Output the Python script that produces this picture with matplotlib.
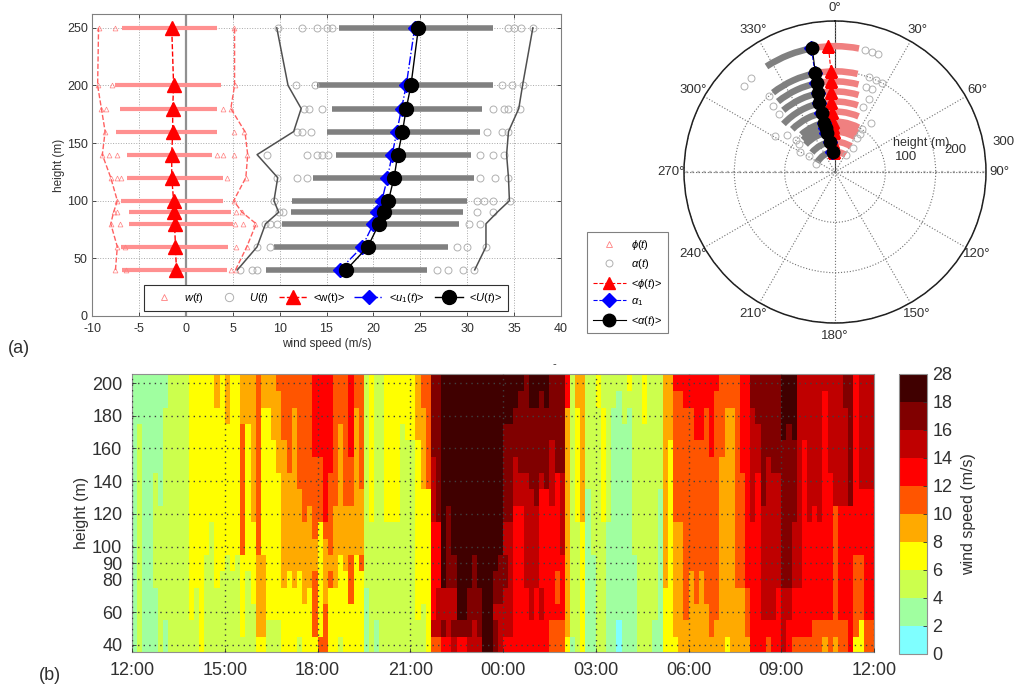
import numpy as np
import matplotlib
matplotlib.use('Agg')
import matplotlib.pyplot as plt
from matplotlib.colors import ListedColormap, BoundaryNorm

plt.rcParams['font.family'] = ['Liberation Sans', 'DejaVu Sans']
plt.rcParams['mathtext.fontset'] = 'custom'
plt.rcParams['mathtext.it'] = 'Liberation Sans:italic'
plt.rcParams['mathtext.rm'] = 'Liberation Sans'
plt.rcParams['axes.unicode_minus'] = False

W, H = 1016, 689

# heights of the mast levels
heights = [40, 60, 80, 90, 100, 120, 140, 160, 180, 200, 250]

# vertical wind w
w_mean = [-1.0, -1.1, -1.2, -1.25, -1.3, -1.5, -1.5, -1.4, -1.4, -1.3, -1.5]
w_min = [-7.5, -7.3, -8.0, -7.7, -7.3, -8.0, -8.9, -8.6, -9.0, -9.4, -9.3]
w_max = [5.3, 6.5, 7.5, 6.0, 5.1, 6.4, 6.6, 6.3, 4.8, 5.2, 5.2]
w_dense_lo = [-6.8, -6.9, -6.1, -6.1, -6.9, -6.3, -6.3, -7.4, -7.0, -7.5, -6.8]
w_dense_hi = [4.4, 4.5, 5.0, 4.8, 4.0, 4.0, 2.8, 3.3, 3.3, 3.7, 3.3]
w_outliers = [
    [-7.5, -6.4, 4.8, 5.3],
    [-7.3, -6.5, 5.4, 6.5],
    [-8.0, -7.0, 5.2, 6.1, 7.4],
    [-7.7, -7.3, 5.3, 6.0],
    [-7.3, 5.1],
    [-8.0, -7.3, -6.9, 4.4, 6.4],
    [-8.9, -8.2, -7.3, 3.3, 4.0, 5.1, 6.5],
    [-8.6, 5.1, 6.2],
    [-9.0, -8.5, 4.0, 4.8],
    [-9.4, -7.9, 5.2],
    [-9.3, -7.5, 5.1],
]

# horizontal wind U
U_mean = [17.1, 19.4, 20.6, 21.1, 21.6, 22.2, 22.6, 23.1, 23.5, 24.0, 24.8]
u1_mean = [16.4, 18.8, 20.0, 20.4, 20.9, 21.5, 22.0, 22.5, 23.0, 23.5, 24.4]
U_min = [5.5, 7.6, 8.5, 9.9, 9.4, 9.8, 7.6, 11.5, 12.3, 10.9, 9.7]
U_max = [30.8, 32.0, 32.0, 33.2, 34.5, 34.4, 34.2, 34.4, 35.5, 35.9, 37.0]
U_dense_lo = [8.5, 9.4, 10.3, 11.2, 11.3, 13.6, 16.0, 15.0, 15.6, 14.0, 16.3]
U_dense_hi = [25.7, 28.0, 29.1, 29.6, 30.0, 30.7, 30.4, 31.4, 31.6, 32.8, 32.8]
U_outliers = [
    [5.8, 7.1, 7.6, 26.8, 28.0, 29.6, 30.7],
    [7.6, 9.0, 28.9, 30.0, 32.0],
    [8.4, 9.0, 9.7, 30.2, 31.4],
    [9.9, 10.4, 31.0, 32.7],
    [9.4, 31.0, 31.8, 32.8, 34.6],
    [9.7, 11.9, 12.9, 31.4, 33.0, 34.3],
    [8.7, 12.9, 14.0, 14.5, 15.2, 31.4, 32.8, 33.9],
    [11.9, 12.4, 13.3, 32.1, 33.7, 34.3],
    [12.6, 13.1, 14.5, 32.7, 33.9, 34.4, 35.6],
    [11.7, 13.8, 33.7, 34.8, 35.9],
    [9.8, 12.4, 14.0, 15.1, 15.6, 34.3, 35.0, 35.7, 37.0],
]

# directions in degrees
phi_mean = [-3.0, -3.0, -2.0, -2.0, -2.0, -3.0, -3.0, -3.0, -2.5, -2.3, -3.0]
alpha_mean = [-7.0, -9.5, -12.0, -12.0, -12.3, -12.7, -12.8, -11.9, -11.6, -11.2, -10.4]
alpha1_mean = [-7.5, -10.0, -12.3, -12.3, -12.6, -13.0, -13.0, -12.2, -11.9, -11.5, -10.8]
alpha_lo = [-62, -50, -47, -45, -42, -45, -47, -40, -39, -38, -33]
alpha_hi = [-5, -7, -9, -9, -10, -10, -11, -11, -11, -11, -10]
phi_hi = [32, 32, 30, 30, 28, 23, 19, 17, 15, 13, 11]
alpha_out = [
    [-68, 34],
    [-58, 36],
    [-61, 33],
    [-52, 33],
    [-50, 32],
    [-52, 36],
    [-59, 23],
    [-44, 25],
    [-43, 20, 24],
    [-41, 20, 24, 28],
    [-46.6, -42, 14, 17, 20],
]

# wind speed class per 10 min column, 17 rows from 40 m (first digit) to 200 m
speed_classes = [
    "11111111111111111", "22222222222222111", "11111111111111111", "11111111111111111",
    "11112222222111111", "22222222211111111", "11222222222222211", "22222222222222222",
    "22222222222222222", "22222222222222222", "22222222222222222", "22333333333333333",
    "22223333333333333", "33333333333333333", "22222233333333333", "22222222333333333",
    "22223333333333344", "22222333333333333", "22222233333333444", "22222333333333333",
    "22222233333333333", "23333355555555444", "22222333333333444", "22233333444444444",
    "34444455555555555", "34444433333333344", "22333333333333344", "22333333333334444",
    "22333333333444445", "33334444444445555", "33333444444555555", "33334444444444455",
    "23333444445555555", "33344444555555555", "33334444455555555", "35555445555566666",
    "53333333555566666", "55544445666666666", "33335455555666666", "33334444455555555",
    "23333344444444555", "33333444455555555", "33355544455566666", "33333344444444455",
    "33333544445555555", "11112222222222222", "22222222333333333", "11222222222222222",
    "22222222222222222", "22222222333333333", "22222222333333333", "22222222333333333",
    "22222222222222333", "22222222222223333", "22222222222223333", "22333333333334444",
    "22233333334444455", "33333333335555555", "57666666777788888", "57776666888888888",
    "68779999999999999", "67778888899999999", "78778899999999999", "68999999999999999",
    "68999999999999999", "78889999999999999", "77888899999999999", "78889999999999999",
    "99999999999999999", "99999999999999999", "88788999999999999", "77788899999999999",
    "67778877888888999", "67777777888888999", "66666666677788899", "66666666677888889",
    "66667777777888888", "66777777778888899", "66667777788888899", "66776666667888889",
    "66666666668888899", "55666666677778888", "55655666666888888", "55666677777888888",
    "34444444444444466", "12222222222222222", "22222222333333344", "33333333444444444",
    "11111111112222222", "11111122222222222", "22222222222222233", "22222222333333322",
    "11111111222222222", "11111111111111122", "00111111111111112", "11111111111111222",
    "11111111111111123", "11111122222222222", "22222222222222222", "22222222222222333",
    "22222222222222222", "11222222222222222", "11111111112222222", "33334444444444444",
    "33333333333334444", "34444444555555556", "44444444555555556", "44555555555555566",
    "44444555555555566", "44455555555556666", "44444555555556666", "44455555555555566",
    "45555555555566666", "44555555555555556", "44444444444455555", "34444444444444455",
    "44444444444444455", "44445555555555555", "44445555555666666", "45556666666666666",
    "66666666777777788", "66666666666777888", "66777777788888888", "56777777777788888",
    "66777777777888888", "66667777777888888", "77778888888889999", "66778888888888999",
    "56667777888889999", "56667777777777777", "56666666666667777", "56666666777777777",
    "55666666677777777", "55666666777777777", "45666666666666667", "55666666666777777",
    "45555555577777777", "55666666677777777", "55666666677777788", "66666666688888888",
    "35555566666666666", "33555566667777777", "55666666667777777", "55666666667777777",
]
speed_levels = [0, 2, 4, 6, 8, 10, 12, 14, 16, 18, 28]
speed_colors = ['#7fffff', '#a0ffa0', '#ccff4d', '#ffff00', '#ffaa00',
                '#ff5500', '#ff0000', '#bf0000', '#800000', '#400000']
height_ticks = [40, 60, 80, 90, 100, 120, 140, 160, 180, 200]
time_labels = ['12:00', '15:00', '18:00', '21:00', '00:00', '03:00', '06:00', '09:00', '12:00']

fig = plt.figure(figsize=(W / 100, H / 100), dpi=100)


def px_axes(left, top, right, bottom, **kw):
    return fig.add_axes([left / W, 1 - bottom / H, (right - left) / W, (bottom - top) / H], **kw)


def fx(x):
    return x / W


def fy(y):
    return 1 - y / H


pink = '#ff8080'
grey = '#808080'
ring = '#b0b0b0'

# (a) profile panel
ax = px_axes(92, 14, 561, 316)
ax.axvline(0, color='#909090', lw=1.6, zorder=1)
ax.hlines(heights, w_dense_lo, w_dense_hi, color='#ff9090', lw=3, zorder=2)
ax.hlines(heights, U_dense_lo, U_dense_hi, color=grey, lw=4, zorder=2)
for h, w_o, U_o in zip(heights, w_outliers, U_outliers):
    ax.plot(w_o, [h] * len(w_o), ls='none', marker='^', ms=3.5, mfc='none', mec=pink, mew=0.5, zorder=2)
    ax.plot(U_o, [h] * len(U_o), ls='none', marker='o', ms=5, mfc='none', mec=ring, mew=0.7, zorder=2)
ax.plot(w_min, heights, color='#ff6060', ls='--', lw=1, zorder=3)
ax.plot(w_max, heights, color='#ff6060', ls='--', lw=1, zorder=3)
ax.plot(U_min, heights, color='#505050', lw=1.1, zorder=3)
ax.plot(U_max, heights, color='#505050', lw=1.1, zorder=3)
l_w, = ax.plot([], [], ls='none', marker='^', ms=4, mfc='none', mec=pink, mew=0.6, label='$w(t)$')
l_U, = ax.plot([], [], ls='none', marker='o', ms=6, mfc='none', mec=ring, mew=0.7, label='$U(t)$')
l_wm, = ax.plot(w_mean, heights, color='r', ls='--', lw=1, marker='^', ms=10, zorder=5, label='<w(t)>')
l_u1, = ax.plot(u1_mean, heights, color='b', ls='-.', lw=1, marker='D', ms=7, zorder=5, label='<$u_1(t)$>')
l_Um, = ax.plot(U_mean, heights, color='k', lw=1, marker='o', ms=10, zorder=6, label='<$U(t)$>')
ax.set_xlim(-10, 40)
ax.set_ylim(0, 262)
ax.set_xticks(np.arange(-10, 41, 5))
ax.set_yticks(np.arange(0, 251, 50))
ax.tick_params(labelsize=9, length=3, width=0.6, direction='in', top=True, right=True, pad=3, colors='#303030')
ax.tick_params(axis='x', pad=5)
ax.grid(True, ls=':', color='#a8a8a8', lw=0.7)
ax.set_axisbelow(True)
ax.set_xlabel('wind speed (m/s)', fontsize=8.5, labelpad=2, color='#303030')
ax.set_ylabel('height (m)', fontsize=8.5, labelpad=1, color='#303030')
for s in ax.spines.values():
    s.set_color('#808080')
leg = ax.legend(handles=[l_w, l_U, l_wm, l_u1, l_Um], ncol=5, loc='center',
                bbox_to_anchor=(fx(326), fy(298)), bbox_transform=fig.transFigure,
                fontsize=8, fancybox=False, framealpha=1, edgecolor='#303030',
                columnspacing=0.9, handletextpad=0.5, handlelength=2.6, borderpad=0.55)
leg.set_zorder(10)
leg.get_frame().set_linewidth(0.8)

# (a) direction panel
pax = px_axes(684, 21, 986, 323, projection='polar')
pax.set_theta_zero_location('N')
pax.set_theta_direction(-1)
pax.set_rlim(0, 300)
pax.barh(heights, np.radians(np.subtract(alpha_hi, alpha_lo)), left=np.radians(alpha_lo),
         height=13, color=grey, zorder=2)
pax.barh(heights, np.radians(np.subtract(phi_hi, alpha_hi)), left=np.radians(alpha_hi),
         height=13, color='#f08080', zorder=2)
for h, a_o in zip(heights, alpha_out):
    pax.plot(np.radians(a_o), [h] * len(a_o), ls='none', marker='o', ms=5, mfc='none',
             mec=ring, mew=0.7, zorder=3)
p_phi, = pax.plot([], [], ls='none', marker='^', ms=4, mfc='none', mec=pink, mew=0.6, label=r'$\phi(t)$')
p_alpha, = pax.plot([], [], ls='none', marker='o', ms=5, mfc='none', mec=ring, mew=0.7, label=r'$\alpha(t)$')
p_pm, = pax.plot(np.radians(phi_mean), heights, color='r', ls='--', lw=0.8, marker='^', ms=9, zorder=5,
                 label=r'<$\phi(t)$>')
p_a1, = pax.plot(np.radians(alpha1_mean), heights, color='b', ls='--', lw=0.8, marker='D', ms=7, zorder=5,
                 label=r'$\alpha_1$')
p_am, = pax.plot(np.radians(alpha_mean), heights, color='k', lw=0.8, marker='o', ms=9, zorder=6,
                 label=r'<$\alpha(t)$>')
pax.set_thetagrids(np.arange(0, 360, 30), [f'{d}°' for d in range(0, 360, 30)], fontsize=9.5, color='#303030')
pax.tick_params(axis='x', pad=-1)
pax.set_rticks([100, 200, 300])
pax.set_yticklabels([])
pax.grid(True, ls=':', color='#707070', lw=0.8)
# the north spoke is solid, the east-west one heavier and pale
pax.axvline(0, color='#303030', lw=0.8, zorder=1)
pax.axvline(np.pi / 2, color='#b8b8b8', ls=':', lw=1.6, zorder=1)
pax.axvline(3 * np.pi / 2, color='#b8b8b8', ls=':', lw=1.6, zorder=1)
pax.spines['polar'].set_color('#202020')
pax.spines['polar'].set_linewidth(1.1)
fig.text(fx(921), fy(143), 'height (m)', fontsize=9, ha='center', va='center', color='#303030')
fig.text(fx(906), fy(157), '100', fontsize=9.5, ha='center', va='center', color='#303030')
fig.text(fx(955), fy(150), '200', fontsize=9.5, ha='center', va='center', color='#303030')
fig.text(fx(1004), fy(142), '300', fontsize=9.5, ha='center', va='center', color='#303030')
pleg = fig.legend(handles=[p_phi, p_alpha, p_pm, p_a1, p_am], loc='upper left',
                  bbox_to_anchor=(fx(587), fy(232)), fontsize=8, fancybox=False, framealpha=1,
                  edgecolor='#808080', labelspacing=0.5, handlelength=3.0, borderpad=0.5,
                  borderaxespad=0, handletextpad=0.5)
pleg.get_frame().set_linewidth(0.8)

# (b) time-height panel
bax = px_axes(132, 374, 874, 652)
cls = np.array([[int(c) for c in col] for col in speed_classes]).T
speed = np.array(speed_levels[:-1])[cls] + 1
cmap = ListedColormap(speed_colors)
norm = BoundaryNorm(speed_levels, cmap.N)
t_edges = np.linspace(0, 24, cls.shape[1] + 1)
h_edges = np.arange(35, 206, 10)
mesh = bax.pcolormesh(t_edges, h_edges, speed, cmap=cmap, norm=norm)
bax.set_xlim(0, 24)
bax.set_ylim(35.7, 205.5)
bax.set_xticks(np.arange(0, 25, 3))
bax.set_xticklabels(time_labels)
bax.set_yticks(height_ticks)
bax.tick_params(labelsize=13, length=3, width=0.6, direction='in', pad=7, colors='#303030')
bax.grid(True, ls=(0, (1, 3)), color='#404040', lw=1)
bax.set_axisbelow(False)
bax.set_ylabel('height (m)', fontsize=11.5, labelpad=2, color='#303030')
for s in bax.spines.values():
    s.set_color('#909090')

cax = px_axes(899, 374, 927, 654)
cb = fig.colorbar(mesh, cax=cax, ticks=speed_levels, spacing='uniform')
cb.ax.tick_params(labelsize=13, length=3, width=0.6, direction='in', pad=4, colors='#303030')
cb.set_label('wind speed (m/s)', fontsize=11.5, labelpad=6, color='#303030')
cb.outline.set_edgecolor('#909090')

fig.text(fx(8), fy(349), '(a)', fontsize=13, va='center', color='#303030')
fig.text(fx(39), fy(676), '(b)', fontsize=13, va='center', color='#303030')
fig.text(fx(554), fy(364), '-', fontsize=8, ha='center', va='center', color='#303030')

fig.savefig('out.png', dpi=100)
